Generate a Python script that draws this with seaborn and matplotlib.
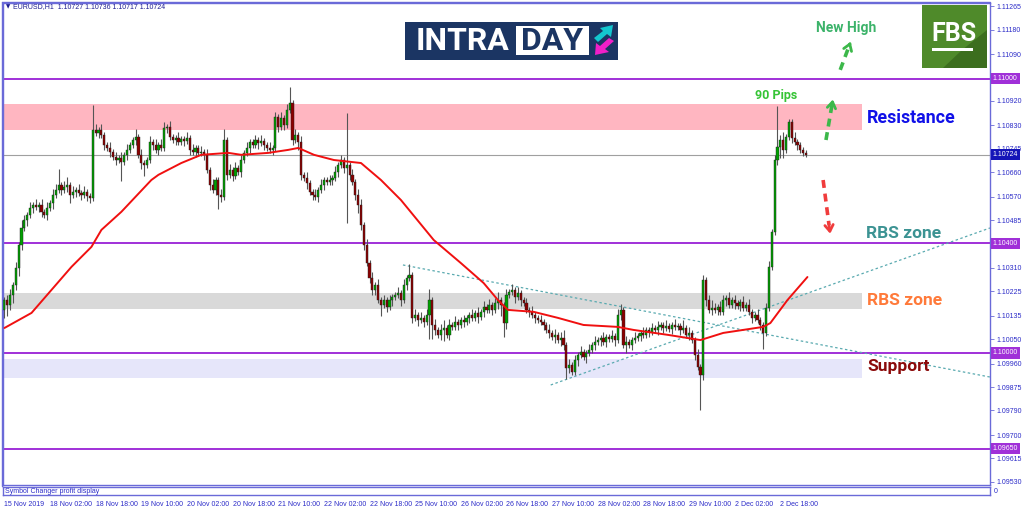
import numpy as np
import pandas as pd
import matplotlib
matplotlib.use('Agg')
import matplotlib.pyplot as plt
import seaborn as sns
from matplotlib.patches import Rectangle, Polygon

# ---- candle data (EURUSD H1, 15 Nov 10:00 .. 3 Dec 03:00) ----
first_open = 1.10157
closes = [
    1.10193, 1.10175, 1.10212, 1.10248, 1.10310, 1.10394, 1.10456, 1.10485, 1.10504, 1.10529,
    1.10540, 1.10533, 1.10540, 1.10515, 1.10504, 1.10529, 1.10547, 1.10577, 1.10595, 1.10613,
    1.10595, 1.10606, 1.10613, 1.10577, 1.10588, 1.10595, 1.10584, 1.10577, 1.10588, 1.10573,
    1.10566, 1.10814, 1.10803, 1.10814, 1.10796, 1.10759, 1.10748, 1.10734, 1.10715, 1.10704,
    1.10712, 1.10697, 1.10723, 1.10741, 1.10759, 1.10777, 1.10788, 1.10723, 1.10693, 1.10686,
    1.10704, 1.10770, 1.10759, 1.10741, 1.10759, 1.10748, 1.10821, 1.10825, 1.10788, 1.10777,
    1.10785, 1.10770, 1.10781, 1.10774, 1.10785, 1.10741, 1.10734, 1.10748, 1.10730, 1.10734,
    1.10723, 1.10668, 1.10613, 1.10595, 1.10631, 1.10577, 1.10569, 1.10777, 1.10650, 1.10668,
    1.10646, 1.10675, 1.10661, 1.10704, 1.10730, 1.10748, 1.10770, 1.10759, 1.10777, 1.10766,
    1.10774, 1.10759, 1.10748, 1.10741, 1.10748, 1.10861, 1.10825, 1.10858, 1.10832, 1.10887,
    1.10912, 1.10777, 1.10796, 1.10770, 1.10650, 1.10639, 1.10620, 1.10588, 1.10577, 1.10569,
    1.10595, 1.10613, 1.10631, 1.10624, 1.10631, 1.10639, 1.10661, 1.10686, 1.10704, 1.10675,
    1.10686, 1.10650, 1.10624, 1.10577, 1.10540, 1.10467, 1.10394, 1.10328, 1.10274, 1.10230,
    1.10248, 1.10193, 1.10175, 1.10193, 1.10168, 1.10193, 1.10204, 1.10212, 1.10219, 1.10193,
    1.10248, 1.10274, 1.10285, 1.10128, 1.10139, 1.10120, 1.10128, 1.10113, 1.10139, 1.10193,
    1.10102, 1.10084, 1.10066, 1.10084, 1.10091, 1.10066, 1.10102, 1.10095, 1.10113, 1.10102,
    1.10120, 1.10113, 1.10128, 1.10139, 1.10128, 1.10146, 1.10131, 1.10150, 1.10168, 1.10157,
    1.10175, 1.10157, 1.10182, 1.10193, 1.10175, 1.10109, 1.10212, 1.10223, 1.10230, 1.10204,
    1.10219, 1.10193, 1.10182, 1.10157, 1.10150, 1.10139, 1.10128, 1.10120, 1.10113, 1.10102,
    1.10084, 1.10073, 1.10058, 1.10066, 1.10047, 1.10055, 1.10029, 1.09945, 1.09956, 1.09931,
    1.09974, 1.09993, 1.10004, 1.09985, 1.10000, 1.10011, 1.10029, 1.10040, 1.10047, 1.10055,
    1.10040, 1.10058, 1.10051, 1.10062, 1.10047, 1.10139, 1.10157, 1.10029, 1.10040, 1.10029,
    1.10047, 1.10055, 1.10062, 1.10073, 1.10066, 1.10084, 1.10077, 1.10091, 1.10084, 1.10095,
    1.10102, 1.10091, 1.10099, 1.10088, 1.10102, 1.10095, 1.10099, 1.10084, 1.10091, 1.10066,
    1.10073, 1.10047, 1.09993, 1.09949, 1.09920, 1.10266, 1.10193, 1.10157, 1.10164, 1.10157,
    1.10168, 1.10150, 1.10193, 1.10201, 1.10175, 1.10193, 1.10182, 1.10172, 1.10186, 1.10164,
    1.10175, 1.10150, 1.10128, 1.10139, 1.10120, 1.10102, 1.10073, 1.10164, 1.10314, 1.10442,
    1.10704, 1.10752, 1.10777, 1.10741, 1.10788, 1.10843, 1.10785, 1.10770, 1.10759, 1.10741,
    1.10730, 1.10724,
]
upper_wick_pips = [
    1, 2, 2, 1, 2, 1, 3, 2, 1, 2,   1, 2, 1, 2, 1, 2, 1, 2, 2, 6,
    1, 2, 3, 1, 2, 1, 2, 1, 2, 1,   1, 9, 2, 1, 2, 1, 1, 2, 1, 2,
    1, 2, 1, 2, 1, 1, 3, 1, 2, 1,   1, 2, 1, 2, 1, 2, 2, 1, 2, 1,
    1, 2, 1, 1, 2, 1, 2, 1, 1, 2,   1, 2, 1, 2, 1, 1, 2, 4, 1, 2,
    1, 2, 1, 2, 1, 2, 1, 1, 2, 1,   2, 1, 1, 2, 1, 2, 1, 2, 1, 2,
    6, 1, 2, 1, 2, 1, 2, 1, 1, 2,   1, 2, 1, 1, 2, 1, 2, 1, 2, 1,
    19, 1, 2, 1, 2, 2, 1, 2, 1, 2,  1, 2, 1, 2, 1, 2, 1, 1, 2, 1,
    2, 1, 4, 1, 2, 1, 2, 1, 2, 4,   1, 2, 1, 2, 3, 1, 2, 1, 2, 1,
    1, 2, 1, 1, 2, 1, 2, 1, 2, 1,   2, 1, 2, 3, 1, 1, 2, 1, 2, 1,
    2, 1, 1, 2, 1, 2, 1, 1, 2, 1,   1, 2, 1, 2, 1, 2, 3, 1, 2, 1,
    2, 1, 2, 1, 1, 2, 1, 2, 1, 1,   2, 1, 1, 2, 1, 2, 2, 1, 2, 1,
    1, 2, 1, 1, 2, 1, 1, 2, 1, 2,   1, 1, 2, 1, 1, 2, 1, 1, 3, 1,
    2, 1, 1, 2, 1, 2, 1, 2, 3, 2,   1, 2, 2, 1, 2, 1, 2, 1, 1, 2,
    1, 2, 1, 1, 2, 1, 1, 2, 2, 1,   2, 15, 2, 3, 1, 1, 1, 2, 1, 1,
    1, 1,
]
lower_wick_pips = [
    3, 4, 2, 3, 2, 3, 2, 1, 2, 1,   2, 1, 2, 2, 1, 2, 1, 2, 1, 1,
    2, 1, 2, 3, 1, 2, 1, 2, 1, 2,   2, 1, 1, 2, 1, 2, 1, 2, 1, 2,
    1, 7, 1, 2, 1, 1, 2, 1, 2, 4,   1, 1, 2, 1, 2, 1, 1, 2, 1, 1,
    2, 1, 1, 2, 1, 2, 1, 2, 1, 1,   2, 1, 2, 1, 2, 5, 2, 1, 2, 1,
    2, 1, 1, 2, 1, 1, 2, 1, 1, 2,   1, 2, 1, 1, 2, 1, 2, 1, 2, 1,
    1, 2, 1, 3, 2, 1, 2, 1, 2, 1,   2, 1, 2, 1, 1, 2, 1, 2, 1, 2,
    20, 2, 1, 2, 3, 2, 2, 1, 2, 2,  2, 1, 4, 1, 2, 1, 2, 1, 1, 2,
    1, 2, 1, 2, 1, 2, 1, 2, 1, 9,   5, 2, 1, 2, 4, 1, 2, 1, 1, 2,
    1, 2, 1, 2, 1, 1, 2, 1, 2, 1,   1, 2, 1, 2, 4, 5, 2, 1, 1, 2,
    1, 2, 1, 1, 2, 1, 2, 1, 1, 2,   1, 2, 1, 2, 1, 2, 2, 4, 2, 1,
    1, 2, 1, 1, 2, 1, 1, 2, 1, 2,   1, 2, 1, 1, 2, 1, 2, 1, 3, 1,
    2, 1, 1, 2, 1, 1, 2, 1, 1, 2,   1, 2, 1, 1, 2, 1, 1, 2, 1, 1,
    2, 1, 2, 1, 13, 2, 2, 1, 2, 1,  2, 1, 1, 2, 1, 1, 2, 1, 2, 1,
    1, 1, 2, 1, 1, 2, 6, 1, 1, 1,   1, 2, 4, 3, 1, 1, 2, 1, 2, 1,
    1, 1,
]

# moving average
ma_bars = [0, 9.5, 16.5, 23.5, 30.5, 34, 37.5, 41, 51.5, 54, 62, 69, 78.5, 83, 92.5,
           99.5, 103, 108.5, 115.5, 125, 132, 139, 150.5, 160, 168, 173, 176.5, 185.5,
           194, 203, 215, 220.5, 232.5, 244, 252, 266, 268.5, 274.5, 281.5]
ma_values = [1.10091, 1.10146, 1.10230, 1.10314, 1.10387, 1.10449, 1.10482, 1.10515,
             1.10631, 1.10650, 1.10693, 1.10723, 1.10730, 1.10723, 1.10730, 1.10741,
             1.10748, 1.10723, 1.10704, 1.10693, 1.10631, 1.10558, 1.10412, 1.10328,
             1.10255, 1.10193, 1.10157, 1.10150, 1.10128, 1.10102, 1.10095, 1.10084,
             1.10066, 1.10047, 1.10073, 1.10095, 1.10109, 1.10193, 1.10277]

# trend lines
down_trend_bars = [139.7, 345.5]
down_trend_prices = [1.10321, 1.09912]
up_trend_bars = [191.5, 345.5]
up_trend_prices = [1.09883, 1.10456]

# levels and zones
key_levels = [1.11000, 1.10400, 1.10000, 1.09650]
last_price = 1.10724
resistance_zone = (1.10814, 1.10909)
rbs_zone = (1.10161, 1.10219)
support_zone = (1.09909, 1.09978)

price_ticks = [1.11265, 1.11180, 1.11090, 1.10920, 1.10830, 1.10745, 1.10660, 1.10570,
               1.10485, 1.10310, 1.10225, 1.10135, 1.10050, 1.09960, 1.09875, 1.09790,
               1.09700, 1.09615, 1.09530]
time_tick_bars = [0, 16, 32, 48, 64, 80, 96, 112, 128, 144, 160, 176, 192, 208, 224, 240, 256, 272]
time_tick_labels = ['15 Nov 2019', '18 Nov 02:00', '18 Nov 18:00', '19 Nov 10:00', '20 Nov 02:00',
                    '20 Nov 18:00', '21 Nov 10:00', '22 Nov 02:00', '22 Nov 18:00', '25 Nov 10:00',
                    '26 Nov 02:00', '26 Nov 18:00', '27 Nov 10:00', '28 Nov 02:00', '28 Nov 18:00',
                    '29 Nov 10:00', '2 Dec 02:00', '2 Dec 18:00']

PIP = 0.0001
df = pd.DataFrame({'close': closes})
df['bar'] = np.arange(len(df))
df['open'] = [first_open] + closes[:-1]
df['high'] = df[['open', 'close']].max(axis=1) + np.array(upper_wick_pips) * PIP
df['low'] = df[['open', 'close']].min(axis=1) - np.array(lower_wick_pips) * PIP
df['bull'] = df['close'] >= df['open']

ma_df = pd.DataFrame({'bar': ma_bars, 'ma': ma_values})

sns.set_style('white')
plt.rcParams['font.family'] = ['Liberation Sans', 'DejaVu Sans']

W, H = 1024, 511
fig = plt.figure(figsize=(W / 100, H / 100), dpi=100)
frame_col = '#6a6ad8'
axis_txt = '#2b2bc8'
small = 5

ax = fig.add_axes([3 / W, 1 - 485 / H, 987 / W, 482 / H])
ax.set_xlim(-0.5, 345.5)
ax.set_ylim(1.09518, 1.11277)

# zones
zone_right = 0.870
ax.axhspan(*resistance_zone, xmin=0, xmax=zone_right, color='#ffb6c1', lw=0, zorder=0)
ax.axhspan(*rbs_zone, xmin=0, xmax=zone_right, color='#d9d9d9', lw=0, zorder=0)
ax.axhspan(*support_zone, xmin=0, xmax=zone_right, color='#e6e6fa', lw=0, zorder=0)

for lv in key_levels:
    ax.axhline(lv, color='#a030d8', lw=1.4, zorder=1)
ax.axhline(last_price, color='#a0a0a0', lw=0.8, zorder=1)

# candles
ax.vlines(df['bar'], df['low'], df['high'], color='#555555', lw=0.8, zorder=3)
body = (df['close'] - df['open']).where(lambda s: s.abs() > 0.000015, 0.000015)
ax.bar(df['bar'], body, bottom=df['open'], width=0.75,
       color=np.where(df['bull'], '#00a000', '#8b0000'),
       edgecolor='#222222', linewidth=0.3, zorder=4)

# moving average and trend lines
sns.lineplot(data=ma_df, x='bar', y='ma', ax=ax, color='#f01010', lw=1.4, zorder=5)
sns.lineplot(x=down_trend_bars, y=down_trend_prices, ax=ax, color='#5aaab0', lw=0.9,
             linestyle=(0, (2, 2)), zorder=2)
sns.lineplot(x=up_trend_bars, y=up_trend_prices, ax=ax, color='#5aaab0', lw=0.9,
             linestyle=(0, (2, 2)), zorder=2)

# annotations
txt_font = ['Roboto', 'DejaVu Sans']
ax.text(302.4, 1.10858, 'Resistance', color='#1010e8', fontsize=12.8, fontweight='bold',
        family=txt_font, va='center', ha='left')
ax.text(302.2, 1.10434, 'RBS zone', color='#3c9393', fontsize=12.5, fontweight='bold',
        family=txt_font, va='center', ha='left')
ax.text(302.4, 1.10193, 'RBS zone', color='#ff7a3a', fontsize=12.5, fontweight='bold',
        family=txt_font, va='center', ha='left')
ax.text(302.4, 1.09949, 'Support', color='#8b0a0a', fontsize=12.5, fontweight='bold',
        family=txt_font, va='center', ha='left')
ax.text(270.6, 1.10938, '90 Pips', color='#35c435', fontsize=9, fontweight='bold',
        family=txt_font, va='center', ha='center')
ax.text(295.2, 1.11186, 'New High', color='#3cb36a', fontsize=10, fontweight='bold',
        family=txt_font, va='center', ha='center')


def dashed_arrow(x0, y0, x1, y1, col):
    ax.plot([x0, x0 + (x1 - x0) * 0.8], [y0, y0 + (y1 - y0) * 0.8], color=col, lw=2.6,
            linestyle=(0, (2.2, 1.6)), zorder=6, solid_capstyle='butt')
    ax.annotate('', xy=(x1, y1), xytext=(x0 + (x1 - x0) * 0.75, y0 + (y1 - y0) * 0.75),
                arrowprops=dict(arrowstyle='->,head_length=0.45,head_width=0.3', color=col, lw=2),
                zorder=6)


dashed_arrow(288.0, 1.10777, 290.6, 1.10935, '#3cb84a')
dashed_arrow(293.0, 1.11033, 297.0, 1.11145, '#3cb84a')
dashed_arrow(287.0, 1.10631, 289.6, 1.10425, '#f03c3c')

# right price scale
ax.yaxis.tick_right()
ax.set_yticks(price_ticks)
ax.set_yticklabels([f'{v:.5f}' for v in price_ticks])
ax.tick_params(axis='y', length=3, width=0.6, color=frame_col, labelsize=small,
               labelcolor=axis_txt, pad=1.5)
ax.set_xticks([])
for lv in key_levels:
    ax.text(1.003, lv, f'{lv:.5f}', transform=ax.get_yaxis_transform(), fontsize=small,
            color='white', va='center', ha='left', zorder=8,
            bbox=dict(boxstyle='square,pad=0.3', fc='#a030d8', ec='none'))
ax.text(1.003, last_price, f'{last_price:.5f}', transform=ax.get_yaxis_transform(), fontsize=small,
        color='white', va='center', ha='left', zorder=8,
        bbox=dict(boxstyle='square,pad=0.3', fc='#1515b8', ec='none'))
for s in ax.spines.values():
    s.set_color(frame_col)
    s.set_linewidth(1)
ax.set_xlabel('')
ax.set_ylabel('')

# indicator sub-window and time axis
ax2 = fig.add_axes([3 / W, 1 - 495 / H, 987 / W, 8 / H])
ax2.set_xlim(ax.get_xlim())
ax2.set_yticks([])
ax2.set_xticks(time_tick_bars)
ax2.set_xticklabels(time_tick_labels, ha='left')
ax2.tick_params(axis='x', length=3, width=0.6, color=frame_col, labelsize=small,
                labelcolor=axis_txt, pad=1.5)
for s in ax2.spines.values():
    s.set_color(frame_col)
    s.set_linewidth(1)
ax2.text(0.002, 0.45, 'Symbol Changer profit display', transform=ax2.transAxes, fontsize=small,
         color=axis_txt, va='center', ha='left')
ax2.text(1.004, 0.45, '0', transform=ax2.transAxes, fontsize=small, color=axis_txt,
         va='center', ha='left')

# overlay: header and logos (pixel space)
ov = fig.add_axes([0, 0, 1, 1], zorder=10)
ov.set_xlim(0, W)
ov.set_ylim(H, 0)
ov.axis('off')
ov.text(6, 7, '\u25bc', fontsize=4, color='#1c1c90', va='center', ha='left', family='DejaVu Sans')
ov.text(13, 7, 'EURUSD,H1  1.10727 1.10736 1.10717 1.10724', fontsize=small,
        color='#1c1c90', va='center', ha='left')
ov.plot([2, 2], [2, 486], color=frame_col, lw=1)
ov.plot([2, 990], [2, 2], color=frame_col, lw=1)

# INTRADAY logo
ov.add_patch(Rectangle((405, 22), 213, 38, fc='#1b3563', ec='none'))
ov.add_patch(Rectangle((516, 26), 73, 29, fc='white', ec='none'))
ov.text(463, 41, 'INTRA', color='white', fontsize=23, fontweight='bold',
        family=['Roboto', 'DejaVu Sans'], va='center', ha='center')
ov.text(552, 41, 'DAY', color='#1b3563', fontsize=23, fontweight='bold',
        family=['Roboto', 'DejaVu Sans'], va='center', ha='center')
ov.add_patch(Polygon([[594, 38], [603, 31], [600, 28], [613, 25], [611, 37], [607, 34], [598, 42]],
                     closed=True, fc='#13c6cf', ec='none'))
ov.add_patch(Polygon([[614, 41], [605, 49], [609, 52], [595, 55], [596, 43], [600, 46], [609, 38]],
                     closed=True, fc='#f01fc8', ec='none'))

# FBS logo
ov.add_patch(Rectangle((922, 5), 65, 63, fc='#4f8a2a', ec='none'))
ov.add_patch(Polygon([[987, 68], [987, 30], [962, 50], [943, 68]], closed=True, fc='#3c6e1e', ec='none'))
ov.text(954, 34, 'FBS', color='white', fontsize=18, fontweight='bold',
        family=['Roboto', 'DejaVu Sans'], va='center', ha='center')
ov.add_patch(Rectangle((932, 48), 41, 3, fc='white', ec='none'))

fig.savefig('out.png', dpi=100)
